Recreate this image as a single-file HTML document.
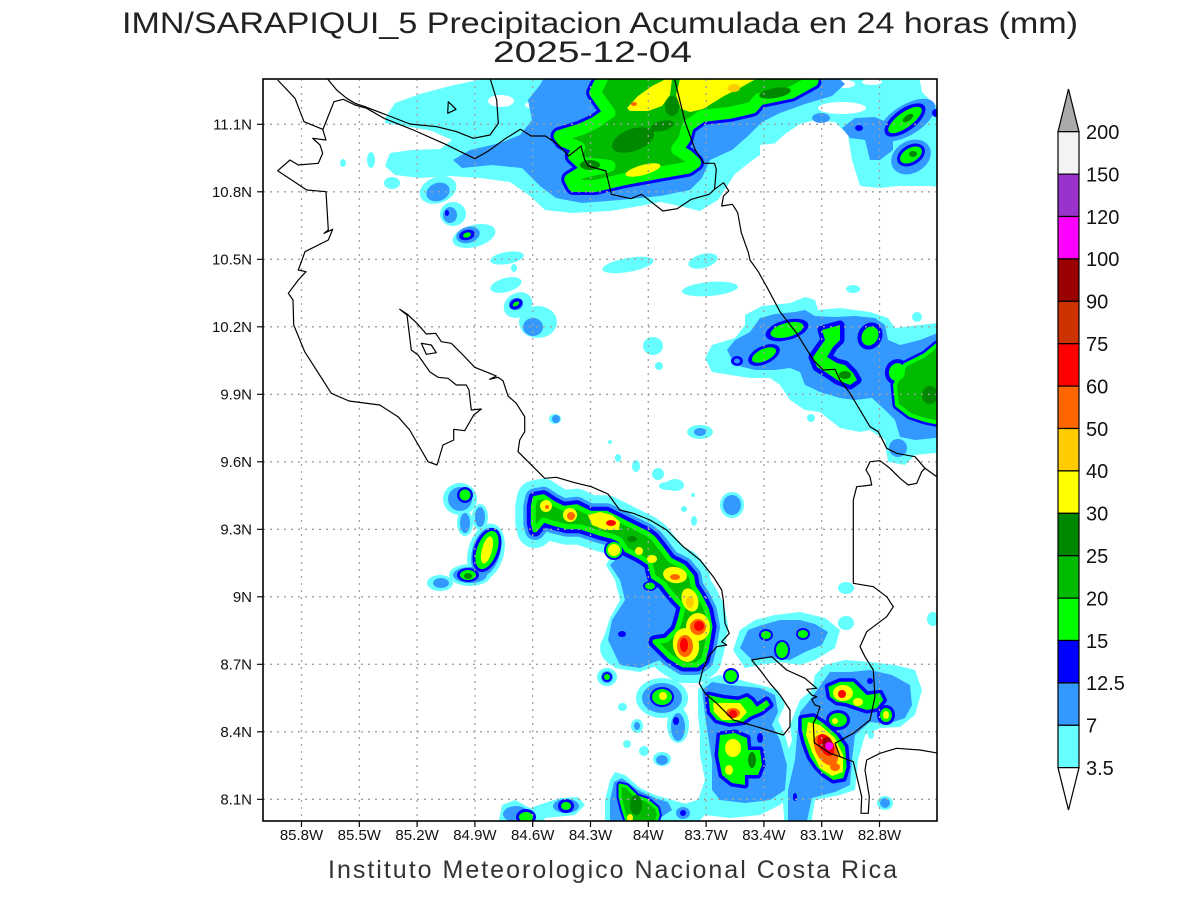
<!DOCTYPE html>
<html><head><meta charset="utf-8"><style>
html,body{margin:0;padding:0;background:#fff;}
svg{display:block;}
text{font-family:"Liberation Sans",sans-serif;}
</style></head><body>
<svg xmlns="http://www.w3.org/2000/svg" xmlns:xlink="http://www.w3.org/1999/xlink" width="1200" height="900" viewBox="0 0 1200 900">
<rect width="1200" height="900" fill="#fff"/>
<defs>
<clipPath id="pc"><rect x="263" y="79" width="674" height="742"/></clipPath>
<polygon id="topg" points="605.9,70 812.5,70 812.5,81 791.1,92.7 759.1,99.3 752,107.7 730.6,112.7 702.1,116 687.8,126 684.3,139.3 677.1,149.3 687.8,156 695,162.7 687.8,167.7 659.3,172.7 623.7,179.3 595.2,186 573.8,186 570.3,179.3 581,172.7 595.2,169.3 609.5,166 581,162.7 573.8,156 579.2,147.7 563.2,141 559.6,136 581,129.3 595.2,122.7 609.5,112.7 602.3,102.7 595.2,92.7"/>
<polygon id="arc" points="535,498.3 543.3,496.7 553.3,503.3 563.3,508.3 576.7,506.7 590,513.3 606.7,513.3 620,520 633.3,526.7 646.7,533.3 653.3,538.3 660,546.7 670,560 683.3,566.7 691.7,576.7 693.3,586.7 700,596.7 706.7,610 710,626.7 706.7,646.7 703.3,660 696.7,665 683.3,665 670,656.7 660,646.7 655,641.7 666.7,640 676.7,630 680,620 683.3,606.7 676.7,600 668.3,590 663.3,583.3 653.3,576.7 650,563.3 640,556.7 633.3,553.3 626.7,550 620,540 613.3,536.7 600,533.3 590,530 580,526.7 566.7,526.7 553.3,523.3 543.3,520 535,530 533.3,523.3 533.3,506.7"/>
<polygon id="mt" points="822,330 840,325 840,340 833,347 827,357 837,363 845,365 853,373 857,380 850,385 837,380 827,373 817,367 813,357 820,347 825,340"/>
<polygon id="fb" points="950,340 937,345 925,355 905,365 895,385 897,405 910,415 925,420 950,425"/>
<polygon id="go" points="708.3,695 723.3,698.3 738.3,700 746.7,696.7 751.7,700 756.7,706.7 766.7,700 770,705 761.7,711.7 750,716.7 743.3,721.7 730,723.3 716.7,720 710,711.7"/>
<polygon id="gl" points="720,735 735,733 747,738 748,750 760,750 762,765 758,775 745,775 745,785 732,783 722,775 718,755"/>
<polygon id="gd" points="801.7,718.3 813.3,716.7 823.3,723.3 836.7,735 845,746.7 846.7,766.7 843.3,778.3 833.3,780 823.3,773.3 816.7,766.7 810,756.7 805,743.3 801.7,730"/>
<polygon id="gu" points="828.3,686.7 840,681.7 853.3,681.7 861.7,690 866.7,695 880,693.3 883.3,700 876.7,708.3 866.7,710 856.7,706.7 846.7,703.3 836.7,701.7 830,696.7"/>
<polygon id="bcg" points="620,785 626.7,786.7 636.7,796.7 646.7,800 656.7,808.3 658.3,815 653.3,830 630,830 623.3,810 620,796.7"/>
</defs>

<g clip-path="url(#pc)" stroke-linejoin="round">
<!-- CYAN -->
<g fill="#66ffff">
<polygon points="385,118 395,103 420,94 450,86 478,80 485,70 918,70 922,92 935,105 945,105 945,188 930,186 915,186 897,186 880,188 860,186 852,160 848,135 835,122 815,120 800,124 785,134 770,148 750,162 735,174 718,200 700,211 680,206 660,202 640,206 610,211 572,213 545,210 530,196 510,182 480,178 450,176 420,178 395,175 385,166 390,153 412,150 440,149 452,140 432,131 405,126 385,123"/>
<ellipse cx="438" cy="190" rx="19" ry="13" transform="rotate(-20 438 190)"/>
<ellipse cx="453" cy="214" rx="13" ry="12"/>
<ellipse cx="474" cy="236" rx="22" ry="11" transform="rotate(-15 474 236)"/>
<ellipse cx="507" cy="258" rx="17" ry="6" transform="rotate(-10 507 258)"/>
<ellipse cx="514" cy="268" rx="3" ry="4"/>
<ellipse cx="506" cy="285" rx="16" ry="7" transform="rotate(-15 506 285)"/>
<ellipse cx="518" cy="305" rx="15" ry="12" transform="rotate(-30 518 305)"/>
<ellipse cx="538" cy="322" rx="19" ry="16"/>
<ellipse cx="343" cy="163" rx="3" ry="4"/>
<ellipse cx="371" cy="160" rx="4" ry="8"/>
<ellipse cx="392" cy="183" rx="8" ry="6"/>
<ellipse cx="628" cy="265" rx="26" ry="7" transform="rotate(-10 628 265)"/>
<ellipse cx="703" cy="261" rx="15" ry="7" transform="rotate(-15 703 261)"/>
<ellipse cx="710" cy="289" rx="28" ry="7" transform="rotate(-5 710 289)"/>
<ellipse cx="853" cy="289" rx="7" ry="4"/>
<ellipse cx="653" cy="346" rx="10" ry="9"/>
<ellipse cx="659" cy="366" rx="4" ry="4"/>
<ellipse cx="555" cy="419" rx="6" ry="5"/>
<ellipse cx="610" cy="442" rx="2" ry="2"/>
<ellipse cx="618" cy="458" rx="3" ry="4"/>
<ellipse cx="636" cy="466" rx="4" ry="6"/>
<ellipse cx="658" cy="474" rx="6" ry="6"/>
<ellipse cx="700" cy="432" rx="13" ry="7"/>
<ellipse cx="811" cy="418" rx="4" ry="4"/>
<ellipse cx="917" cy="317" rx="5" ry="5"/>
<ellipse cx="675" cy="485" rx="9" ry="6"/>
<polygon points="705,358 712,345 735,338 745,325 745,315 762,306 790,303 805,297 815,300 818,310 840,308 870,312 888,318 895,328 945,322 945,452 915,455 905,465 888,462 885,440 870,430 860,432 840,428 820,412 805,410 790,400 780,385 770,378 750,378 730,375 712,372"/>
<ellipse cx="898" cy="450" rx="12" ry="13"/>
<ellipse cx="460" cy="499" rx="17" ry="16"/>
<ellipse cx="465" cy="523" rx="8" ry="13"/>
<ellipse cx="480" cy="517" rx="8" ry="13"/>
<ellipse cx="486" cy="552" rx="18" ry="29" transform="rotate(15 486 552)"/>
<ellipse cx="470" cy="575" rx="21" ry="11"/>
<ellipse cx="440" cy="583" rx="13" ry="8"/>
<ellipse cx="630" cy="648" rx="30" ry="22"/>
<ellipse cx="607" cy="677" rx="10" ry="9"/>
<ellipse cx="662" cy="698" rx="26" ry="20"/>
<ellipse cx="623" cy="707" rx="4" ry="4"/>
<ellipse cx="667" cy="486" rx="8" ry="4"/>
<ellipse cx="684" cy="509" rx="3" ry="3"/>
<ellipse cx="694" cy="521" rx="3" ry="5"/>
<ellipse cx="693" cy="495" rx="2" ry="2"/>
<ellipse cx="732" cy="505" rx="12" ry="13"/>
<polygon points="733,650 740,630 755,620 775,615 800,612 825,618 840,630 835,648 815,660 800,665 780,662 760,665 745,668"/>
<ellipse cx="846" cy="588" rx="8" ry="6"/>
<ellipse cx="846" cy="623" rx="8" ry="7"/>
<polygon points="698,690 705,680 720,675 740,680 760,685 778,690 785,705 778,720 785,735 792,760 795,790 780,805 760,815 730,818 705,815 690,830 675,830 680,805 698,800 705,780 700,755 700,735 698,715"/>
<polygon points="795,712 800,700 812,690 815,675 825,665 845,660 870,662 895,665 915,670 922,690 915,715 900,727 880,728 865,735 858,760 855,790 840,795 815,800 810,830 785,830 782,790 785,760 792,740 790,725"/>
<ellipse cx="885" cy="803" rx="8" ry="7"/>
<ellipse cx="871" cy="735" rx="3" ry="4"/>
<ellipse cx="933" cy="619" rx="6" ry="7"/>
<polygon points="605,830 605,800 610,780 615,772 625,775 640,788 655,795 672,800 690,805 695,815 690,830"/>
<ellipse cx="622" cy="707" rx="4" ry="4"/>
<ellipse cx="637" cy="726" rx="6" ry="7"/>
<ellipse cx="627" cy="744" rx="4" ry="4"/>
<ellipse cx="644" cy="751" rx="5" ry="5"/>
<ellipse cx="662" cy="759" rx="9" ry="7"/>
<ellipse cx="678" cy="725" rx="11" ry="18"/>
<polygon points="497,830 502,805 515,800 530,808 545,803 560,798 578,797 585,805 575,815 545,818 540,830"/>
<polygon points="612,555 650,565 670,595 682,620 675,648 662,664 640,672 615,668 603,640 610,618 620,600 615,580 606,565"/>
</g>
<use xlink:href="#arc" fill="#66ffff" stroke="#66ffff" stroke-width="36"/>
<!-- white holes -->
<g fill="#fff">
<ellipse cx="501" cy="101" rx="13" ry="6"/>
<ellipse cx="536" cy="105" rx="11" ry="4"/>
<ellipse cx="842" cy="108" rx="24" ry="6"/>
<ellipse cx="845" cy="84" rx="10" ry="4"/>
<ellipse cx="872" cy="82" rx="10" ry="3"/>
<polygon points="760,145 790,142 830,142 850,150 852,175 845,190 760,190"/>
</g>
<!-- LIGHT BLUE -->
<g fill="#3399ff">
<polygon points="453,160 470,150 500,143 520,135 532,120 528,100 540,85 548,70 830,70 845,84 832,96 805,104 780,113 762,122 748,136 732,150 710,160 702,178 690,190 660,196 620,200 582,203 556,198 540,186 522,168 492,165 462,168"/>
<ellipse cx="907" cy="120" rx="32" ry="15" transform="rotate(-32 907 120)"/>
<polygon points="842,128 855,118 875,117 893,125 893,150 880,160 870,160 865,140 850,138"/>
<ellipse cx="821" cy="118" rx="9" ry="5"/>
<ellipse cx="911" cy="157" rx="21" ry="16" transform="rotate(-30 911 157)"/>
<ellipse cx="438" cy="192" rx="12" ry="9" transform="rotate(-20 438 192)"/>
<ellipse cx="450" cy="215" rx="7" ry="8"/>
<ellipse cx="468" cy="235" rx="12" ry="8" transform="rotate(-15 468 235)"/>
<ellipse cx="533" cy="327" rx="10" ry="9"/>
<ellipse cx="516" cy="304" rx="7" ry="6"/>
<ellipse cx="556" cy="419" rx="4" ry="4"/>
<ellipse cx="700" cy="432" rx="6" ry="4"/>
<polygon points="727,350 735,340 750,332 760,318 775,314 795,312 805,310 815,316 835,317 855,316 875,318 885,325 888,340 900,345 920,340 945,330 945,437 915,440 900,437 895,420 885,410 872,398 855,400 840,398 820,392 805,385 800,372 790,368 775,370 755,370 735,365"/>
<ellipse cx="898" cy="448" rx="9" ry="9"/>
<polygon points="620,555 650,565 670,595 680,620 672,645 660,660 640,668 620,665 608,640 612,620 625,600 620,580 610,565"/>
<ellipse cx="460" cy="499" rx="12" ry="12"/>
<ellipse cx="465" cy="523" rx="5" ry="10"/>
<ellipse cx="480" cy="517" rx="5" ry="10"/>
<ellipse cx="486" cy="552" rx="14" ry="25" transform="rotate(15 486 552)"/>
<ellipse cx="470" cy="575" rx="17" ry="8"/>
<ellipse cx="441" cy="583" rx="8" ry="5"/>
<ellipse cx="607" cy="677" rx="6" ry="6"/>
<ellipse cx="662" cy="698" rx="20" ry="15"/>
<ellipse cx="637" cy="726" rx="3" ry="4"/>
<ellipse cx="662" cy="760" rx="6" ry="5"/>
<ellipse cx="678" cy="727" rx="7" ry="14"/>
<ellipse cx="732" cy="505" rx="9" ry="10"/>
<polygon points="740,648 748,630 762,625 780,620 800,620 815,624 828,632 822,645 805,652 790,660 770,658 752,660"/>
<polygon points="702,690 712,682 730,685 760,688 775,695 778,712 772,725 780,740 787,765 785,790 770,800 745,803 720,800 712,790 712,760 708,735 705,715"/>
<polygon points="800,712 810,700 822,683 830,672 850,672 870,670 892,675 910,685 912,705 905,718 888,724 870,722 855,735 852,760 850,785 835,792 812,798 805,830 788,830 788,790 795,760 797,735"/>
<ellipse cx="885" cy="803" rx="5" ry="5"/>
<polygon points="610,830 610,800 614,782 622,778 638,790 655,798 668,802 672,810 660,818 655,830"/>
<ellipse cx="683" cy="813" rx="7" ry="6"/>
<ellipse cx="516" cy="814" rx="13" ry="8"/>
<ellipse cx="566" cy="806" rx="13" ry="7"/>
</g>
<use xlink:href="#arc" fill="#3399ff" stroke="#3399ff" stroke-width="20"/>
<!-- BLUE -->
<use xlink:href="#topg" fill="#0000ff" stroke="#0000ff" stroke-width="18"/>
<use xlink:href="#arc" fill="#0000ff" stroke="#0000ff" stroke-width="13"/>
<use xlink:href="#mt" fill="#0000ff" stroke="#0000ff" stroke-width="9"/>
<use xlink:href="#fb" fill="#0000ff" stroke="#0000ff" stroke-width="9"/>
<use xlink:href="#go" fill="#0000ff" stroke="#0000ff" stroke-width="7"/>
<use xlink:href="#gl" fill="#0000ff" stroke="#0000ff" stroke-width="7"/>
<use xlink:href="#gd" fill="#0000ff" stroke="#0000ff" stroke-width="7"/>
<use xlink:href="#gu" fill="#0000ff" stroke="#0000ff" stroke-width="7"/>
<use xlink:href="#bcg" fill="#0000ff" stroke="#0000ff" stroke-width="7"/>
<g fill="#0000ff">
<ellipse cx="905" cy="120" rx="24" ry="11" transform="rotate(-36 905 120)"/>
<ellipse cx="911" cy="155" rx="15" ry="10" transform="rotate(-30 911 155)"/>
<ellipse cx="936" cy="113" rx="4" ry="4"/>
<ellipse cx="859" cy="128" rx="4" ry="3"/>
<ellipse cx="467" cy="235" rx="8" ry="5" transform="rotate(-15 467 235)"/>
<ellipse cx="516" cy="304" rx="7" ry="5" transform="rotate(-30 516 304)"/>
<ellipse cx="447" cy="213" rx="2" ry="3"/>
<ellipse cx="787" cy="330" rx="22" ry="10" transform="rotate(-15 787 330)"/>
<ellipse cx="764" cy="355" rx="17" ry="9" transform="rotate(-25 764 355)"/>
<ellipse cx="737" cy="361" rx="6" ry="5"/>
<ellipse cx="870" cy="336" rx="12" ry="14" transform="rotate(30 870 336)"/>
<ellipse cx="897" cy="372" rx="12" ry="13" transform="rotate(20 897 372)"/>
<circle cx="614" cy="550" r="10"/>
<ellipse cx="650" cy="586" rx="7" ry="5"/>
<circle cx="465" cy="495" r="8"/>
<ellipse cx="487" cy="550" rx="13" ry="23" transform="rotate(20 487 550)"/>
<ellipse cx="468" cy="575" rx="11" ry="7"/>
<ellipse cx="622" cy="634" rx="4" ry="3"/>
<circle cx="607" cy="677" r="5"/>
<ellipse cx="662" cy="697" rx="12" ry="10"/>
<ellipse cx="766" cy="635" rx="7" ry="6"/>
<ellipse cx="782" cy="650" rx="8" ry="10"/>
<ellipse cx="803" cy="634" rx="7" ry="6"/>
<circle cx="731" cy="676" r="8"/>
<ellipse cx="760" cy="738" rx="3" ry="5"/>
<ellipse cx="741" cy="782" rx="4" ry="4"/>
<ellipse cx="838" cy="720" rx="12" ry="10"/>
<ellipse cx="886" cy="715" rx="9" ry="10"/>
<ellipse cx="870" cy="681" rx="3" ry="3"/>
<ellipse cx="795" cy="797" rx="2" ry="4"/>
<ellipse cx="683" cy="813" rx="3" ry="3"/>
<ellipse cx="676" cy="721" rx="3" ry="4"/>
<ellipse cx="526" cy="817" rx="10" ry="8"/>
<ellipse cx="566" cy="806" rx="8" ry="7"/>
</g>
<ellipse cx="737" cy="361" rx="3" ry="2.5" fill="#3399ff"/>
<!-- GREEN -->
<use xlink:href="#topg" fill="#00bb00" stroke="#00ff00" stroke-width="12"/>
<use xlink:href="#arc" fill="#00bb00" stroke="#00ff00" stroke-width="5"/>
<use xlink:href="#mt" fill="#00ff00"/>
<use xlink:href="#fb" fill="#00bb00" stroke="#00ff00" stroke-width="4"/>
<use xlink:href="#go" fill="#00ff00"/>
<use xlink:href="#gl" fill="#00ff00"/>
<use xlink:href="#gd" fill="#00ff00"/>
<use xlink:href="#gu" fill="#00ff00"/>
<use xlink:href="#bcg" fill="#00bb00" stroke="#00ff00" stroke-width="3"/>
<g fill="#00ff00">
<ellipse cx="905" cy="120" rx="20" ry="7.5" transform="rotate(-36 905 120)"/>
<ellipse cx="911" cy="155" rx="12" ry="7" transform="rotate(-30 911 155)"/>
<ellipse cx="467" cy="235" rx="4" ry="2.5" transform="rotate(-15 467 235)"/>
<ellipse cx="516" cy="304" rx="3.5" ry="2" transform="rotate(-30 516 304)"/>
<ellipse cx="787" cy="330" rx="17" ry="7" transform="rotate(-15 787 330)"/>
<ellipse cx="764" cy="355" rx="13" ry="6" transform="rotate(-25 764 355)"/>
<ellipse cx="870" cy="336" rx="8" ry="10" transform="rotate(30 870 336)"/>
<ellipse cx="897" cy="372" rx="8" ry="9" transform="rotate(20 897 372)"/>
<circle cx="614" cy="550" r="8"/>
<ellipse cx="650" cy="586" rx="5" ry="3.5"/>
<circle cx="465" cy="495" r="5.5"/>
<ellipse cx="487" cy="550" rx="10" ry="20" transform="rotate(20 487 550)"/>
<ellipse cx="468" cy="575" rx="8" ry="5"/>
<circle cx="607" cy="677" r="3"/>
<ellipse cx="662" cy="697" rx="10" ry="8"/>
<ellipse cx="766" cy="635" rx="5" ry="4"/>
<ellipse cx="782" cy="650" rx="6" ry="8"/>
<ellipse cx="803" cy="634" rx="5" ry="4"/>
<circle cx="731" cy="676" r="6"/>
<ellipse cx="838" cy="720" rx="9" ry="7"/>
<ellipse cx="886" cy="715" rx="6" ry="7"/>
<ellipse cx="526" cy="817" rx="7" ry="5"/>
<ellipse cx="566" cy="806" rx="5" ry="4"/>
</g>
<!-- DARK GREEN -->
<g fill="#008800">
<ellipse cx="633" cy="140" rx="22" ry="11" transform="rotate(-20 633 140)"/>
<ellipse cx="775" cy="93" rx="16" ry="5" transform="rotate(-10 775 93)"/>
<ellipse cx="590" cy="165" rx="10" ry="5"/>
<ellipse cx="672" cy="106" rx="7" ry="10"/>
<ellipse cx="662" cy="126" rx="12" ry="5" transform="rotate(-15 662 126)"/>
<ellipse cx="908" cy="118" rx="6" ry="3" transform="rotate(-36 908 118)"/>
<ellipse cx="913" cy="154" rx="4" ry="3"/>
<ellipse cx="930" cy="395" rx="8" ry="9"/>
<ellipse cx="845" cy="375" rx="6" ry="4"/>
<ellipse cx="600" cy="523" rx="6" ry="4"/>
<ellipse cx="632" cy="539" rx="5" ry="3"/>
<ellipse cx="752" cy="760" rx="4" ry="8"/>
<ellipse cx="636" cy="805" rx="6" ry="10"/>
<ellipse cx="468" cy="576" rx="4" ry="3"/>
</g>
<!-- YELLOW -->
<g fill="#ffff00">
<polygon points="627,108 638,96 652,86 666,79 672,79 670,95 662,106 648,111 630,111"/>
<polygon points="680,79 756,79 738,89 724,96 703,109 690,112 681,109 676,95"/>
<ellipse cx="643" cy="170" rx="18" ry="5" transform="rotate(-15 643 170)"/>
<ellipse cx="546" cy="506" rx="6" ry="6"/>
<ellipse cx="570" cy="515" rx="7" ry="7"/>
<polygon points="588,515 600,512 612,515 620,522 619,530 605,530 592,525"/>
<circle cx="614" cy="550" r="6"/>
<ellipse cx="639" cy="551" rx="4" ry="4"/>
<ellipse cx="652" cy="559" rx="5" ry="4"/>
<ellipse cx="675" cy="575" rx="12" ry="8" transform="rotate(10 675 575)"/>
<ellipse cx="690" cy="600" rx="8" ry="12" transform="rotate(-20 690 600)"/>
<ellipse cx="698" cy="627" rx="12" ry="14"/>
<ellipse cx="686" cy="645" rx="13" ry="17" transform="rotate(-10 686 645)"/>
<ellipse cx="487" cy="550" rx="5" ry="14" transform="rotate(15 487 550)"/>
<ellipse cx="663" cy="696" rx="4" ry="4"/>
<polygon points="713,703 740,703 747,712 740,720 722,720 714,712"/>
<ellipse cx="733" cy="748" rx="8" ry="9"/>
<ellipse cx="729" cy="770" rx="4" ry="5"/>
<polygon points="808,722 820,725 835,738 843,755 843,772 832,776 820,768 812,752 806,735"/>
<ellipse cx="843" cy="693" rx="10" ry="8"/>
<ellipse cx="858" cy="702" rx="5" ry="4"/>
<ellipse cx="835" cy="721" rx="3" ry="3"/>
<ellipse cx="886" cy="715" rx="3" ry="4"/>
<ellipse cx="630" cy="818" rx="3" ry="4"/>
</g>
<g fill="#ffcc00">
<ellipse cx="734" cy="88" rx="6" ry="4"/>
<ellipse cx="690" cy="602" rx="4" ry="6"/>
</g>
<g fill="#ff6600">
<ellipse cx="634" cy="104" rx="3" ry="2"/>
<ellipse cx="547" cy="507" rx="2" ry="2"/>
<ellipse cx="571" cy="516" rx="4" ry="4"/>
<ellipse cx="675" cy="577" rx="5" ry="3"/>
<ellipse cx="698" cy="627" rx="8" ry="8"/>
<ellipse cx="685" cy="646" rx="8" ry="11"/>
<ellipse cx="733" cy="713" rx="7" ry="5"/>
<ellipse cx="826" cy="750" rx="10" ry="17" transform="rotate(-30 826 750)"/>
<ellipse cx="835" cy="767" rx="5" ry="4"/>
</g>
<g fill="#ff0000">
<ellipse cx="611" cy="523" rx="5" ry="3"/>
<ellipse cx="699" cy="626" rx="5" ry="5"/>
<ellipse cx="684" cy="645" rx="4" ry="7"/>
<ellipse cx="733" cy="714" rx="4" ry="4"/>
<ellipse cx="826" cy="745" rx="7" ry="12" transform="rotate(-30 826 745)"/>
<ellipse cx="842" cy="694" rx="4" ry="4"/>
</g>
<ellipse cx="827" cy="743" rx="5" ry="6" fill="#990000"/>
<ellipse cx="829" cy="746" rx="4" ry="4" fill="#ff00ff"/>
</g>

<!-- grid -->
<g stroke="#a0a0a0" stroke-width="1.3" stroke-dasharray="2 5" fill="none">
<path d="M263 124.3H937M263 191.8H937M263 259.3H937M263 326.8H937M263 394.3H937M263 461.8H937M263 529.3H937M263 596.8H937M263 664.3H937M263 731.8H937M263 799.3H937"/>
<path d="M301.5 79V821M359.3 79V821M417.1 79V821M474.9 79V821M532.7 79V821M590.5 79V821M648.3 79V821M706.1 79V821M763.9 79V821M821.7 79V821M879.5 79V821"/>
</g>

<!-- coastlines -->
<g clip-path="url(#pc)" fill="none" stroke="#000" stroke-width="1.2" stroke-linejoin="round">
<polyline points="277.7,80 295,98.3 304,121.7 322.7,129.3 326,140 312.7,138.3 320,145 322.7,153.3 318.3,163.3 298.3,165 290,160 277.7,170.7 306.7,190 326,191.7 328.3,230 324,233.3 332.7,229.3 328.3,240 305,251.7 298.3,270 306,271.7 298.3,280 288.3,293.3 293,300 293.7,325 304.7,351.7 331.3,393.3 349,401 379.7,405 398,416.7 409.7,430 428,461.7 437,465 443,445 453.7,440 453.7,429.3 464.7,430.7 473.7,415 481.3,409 471.3,410 469,390 466.3,385 456.3,385 448,378.3 438,377.3 429.7,371.7 418,355 411.3,350 407,315 399.7,309.3 407,314 417,323.3 426.3,334 435.7,333.3 441.3,341.7 451.3,343.3 463,355 474.7,367.3 489.7,373.3 496.3,376 489.7,379.3 498,377.3 503,380.7 508,396 516.3,403.3 524.7,416.7 524.7,431.7 519.7,440 518,451.7 529.7,463.3 544.7,478.3 556.3,477.3 574.7,482.7 591.3,486.7 608,494 619.7,510 633.3,513.3 650,520 666.7,530 683.3,546.7 700,560 713.3,576.7 721.7,590 723.3,600 725,623.3 729.3,633.3 721.7,641.7 726.7,645 716.7,646.7 708.3,656.7 702.7,670 699.3,683.3 705,693.3 716.7,703.3 733.3,720 756.7,726.7 783.3,735 790,726.7 790,710 780,695 770,683.3 760,670 751.7,660 771.7,656.7 786.7,670 805,678.3 816.7,688.3 806.7,689.3 811.7,695 816.7,696.7 811.7,699.3 815,705 820,706.7 816.7,716.7 813.3,723.3 814.3,742.7 830,753.3 840,756.7 853.3,761.7 861.7,796.7 861,813.3 868.3,813.3 869.3,796.7 865,770 866.7,760 880,753.3 896.7,748.3 920,750 939,753.3"/>
<polyline points="322.7,130 326.7,120 334,101.7 343.3,99.3 355,105 366.7,108.3 384,118.3 413.3,130 445.6,144.3 474.8,158.7 488.4,151 504.4,139.3 520.4,129.3 531.1,136 545.4,136 557.8,144.3 568.5,156 579.2,147.7 581,146 584.5,159.3 588.1,166 605.9,171 611.3,194.3 630.8,198.7 641.5,194.3 662.9,211 677.1,208.7 691.4,199.3 709.2,194.3 714.5,189.3"/>
<polyline points="326.7,78 336.7,90 346.7,98.3 355,103.3 365,106.7 386.7,115 410,124 436.7,126.7 456.7,131.7 473.3,138.3 490,135 498.3,123.3 496.7,100 490,78"/>
<polyline points="674.3,78 685.3,122.7 695,149.3 703.9,163.3 714.5,163.3 716.3,169.3 714.5,189.3 723.5,182.7 728.8,191 723.5,196 721.7,206 732.4,204.3 737.7,212.7 741.3,232.7 748.4,252.7 750,260 758.3,271.7 766.7,286.7 780,311.7 796.7,333.3 813.3,360 823.3,370 835,369.3 840,380 850,393.3 870,426.7 878.3,431.7 886.7,448.3 896.7,453.3 915,456.7 925,468.3 939,478.3"/>
<polyline points="925,468.3 921.7,471.7 916.7,483.3 908.3,485 900,478.3 890,468.3 880,460.7 870,461.7 866,470 870,476.7 871.7,485 856.7,486.7 853.3,500 853.3,583.3 873.3,586.7 886.7,596.7 893.3,606.7 886.7,616.7 866.7,631.7 860,646.7 865,656.7 873.3,670 875,696.7 870,720 853.3,733.3 835,743.3 840,756.7"/>
<polygon points="448.3,101.7 456,109.3 447.7,113.3"/>
<polygon points="421.3,343.3 431.3,345 436.3,352.7 426.3,354.3"/>
</g>

<!-- frame & ticks -->
<rect x="263" y="79" width="674" height="742" fill="none" stroke="#000" stroke-width="1.6"/>
<g stroke="#000" stroke-width="1.2">
<path d="M257 124.3H263M257 191.8H263M257 259.3H263M257 326.8H263M257 394.3H263M257 461.8H263M257 529.3H263M257 596.8H263M257 664.3H263M257 731.8H263M257 799.3H263"/>
<path d="M301.5 821V827M359.3 821V827M417.1 821V827M474.9 821V827M532.7 821V827M590.5 821V827M648.3 821V827M706.1 821V827M763.9 821V827M821.7 821V827M879.5 821V827"/>
</g>
<g font-size="15" fill="#111" text-anchor="end">
<text x="252" y="129.5">11.1N</text>
<text x="252" y="197">10.8N</text>
<text x="252" y="264.5">10.5N</text>
<text x="252" y="332">10.2N</text>
<text x="252" y="399.5">9.9N</text>
<text x="252" y="467">9.6N</text>
<text x="252" y="534.5">9.3N</text>
<text x="252" y="602">9N</text>
<text x="252" y="669.5">8.7N</text>
<text x="252" y="737">8.4N</text>
<text x="252" y="804.5">8.1N</text>
</g>
<g font-size="15" fill="#111" text-anchor="middle">
<text x="301.5" y="840">85.8W</text>
<text x="359.3" y="840">85.5W</text>
<text x="417.1" y="840">85.2W</text>
<text x="474.9" y="840">84.9W</text>
<text x="532.7" y="840">84.6W</text>
<text x="590.5" y="840">84.3W</text>
<text x="648.3" y="840">84W</text>
<text x="706.1" y="840">83.7W</text>
<text x="763.9" y="840">83.4W</text>
<text x="821.7" y="840">83.1W</text>
<text x="879.5" y="840">82.8W</text>
</g>

<!-- title -->
<text x="122" y="33" font-size="30" fill="#222" textLength="956" lengthAdjust="spacingAndGlyphs">IMN/SARAPIQUI_5 Precipitacion Acumulada en 24 horas (mm)</text>
<text x="493" y="62" font-size="30" fill="#222" textLength="199" lengthAdjust="spacingAndGlyphs">2025-12-04</text>
<text x="328" y="878" font-size="25" fill="#333" textLength="569" lengthAdjust="spacing">Instituto Meteorologico Nacional Costa Rica</text>

<!-- colorbar -->
<g stroke="#000" stroke-width="1.2">
<polygon points="1058,131.7 1079,131.7 1068.5,89" fill="#aaaaaa"/>
<rect x="1058" y="131.7" width="21" height="42.4" fill="#f3f3f3"/>
<rect x="1058" y="174.1" width="21" height="42.4" fill="#9933cc"/>
<rect x="1058" y="216.5" width="21" height="42.4" fill="#ff00ff"/>
<rect x="1058" y="258.9" width="21" height="42.4" fill="#990000"/>
<rect x="1058" y="301.3" width="21" height="42.4" fill="#cc3300"/>
<rect x="1058" y="343.7" width="21" height="42.4" fill="#ff0000"/>
<rect x="1058" y="386.1" width="21" height="42.4" fill="#ff6600"/>
<rect x="1058" y="428.5" width="21" height="42.4" fill="#ffcc00"/>
<rect x="1058" y="470.9" width="21" height="42.4" fill="#ffff00"/>
<rect x="1058" y="513.3" width="21" height="42.4" fill="#008800"/>
<rect x="1058" y="555.7" width="21" height="42.4" fill="#00bb00"/>
<rect x="1058" y="598.1" width="21" height="42.4" fill="#00ff00"/>
<rect x="1058" y="640.5" width="21" height="42.4" fill="#0000ff"/>
<rect x="1058" y="682.9" width="21" height="42.4" fill="#3399ff"/>
<rect x="1058" y="725.3" width="21" height="42.4" fill="#66ffff"/>
<polygon points="1058,767.7 1079,767.7 1068.5,810" fill="#fff"/>
</g>
<g font-size="20" fill="#111">
<text x="1086" y="139">200</text>
<text x="1086" y="181.4">150</text>
<text x="1086" y="223.8">120</text>
<text x="1086" y="266.2">100</text>
<text x="1086" y="308.6">90</text>
<text x="1086" y="351">75</text>
<text x="1086" y="393.4">60</text>
<text x="1086" y="435.8">50</text>
<text x="1086" y="478.2">40</text>
<text x="1086" y="520.6">30</text>
<text x="1086" y="563">25</text>
<text x="1086" y="605.4">20</text>
<text x="1086" y="647.8">15</text>
<text x="1086" y="690.2">12.5</text>
<text x="1086" y="732.6">7</text>
<text x="1086" y="775">3.5</text>
</g>
</svg>
</body></html>
